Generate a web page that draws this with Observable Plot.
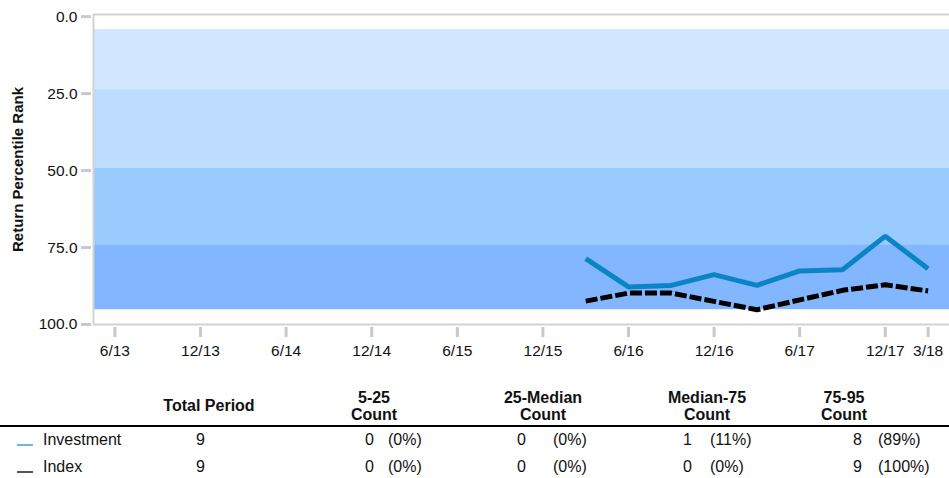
<!DOCTYPE html>
<html>
<head>
<meta charset="utf-8">
<script src="https://cdn.jsdelivr.net/npm/d3@7"></script>
<script src="https://cdn.jsdelivr.net/npm/@observablehq/plot@0.6"></script>
<style>
  body { margin: 0; background: #fff; }
  #wrap { position: relative; width: 949px; height: 478px; overflow: hidden; font-family: "Liberation Sans", Arial, sans-serif; color: #111; }
  #wrap svg { position: absolute; left: 0; top: 0; }
  .cell { position: absolute; font-size: 16px; line-height: 17px; white-space: nowrap; transform: translateY(-50%); }
  .hdr { font-weight: bold; text-align: center; transform: translate(-50%, -50%); }
  .rule { position: absolute; left: 0; width: 949px; height: 2px; background: #000; }
  .sw { position: absolute; width: 16px; height: 1.5px; }
</style>
</head>
<body>
<div id="wrap"></div>
<script>
// ---- data ----
const quarters = ["6/13","9/13","12/13","3/14","6/14","9/14","12/14","3/15","6/15","9/15",
                  "12/15","3/16","6/16","9/16","12/16","3/17","6/17","9/17","12/17","3/18"];
const xTickLabels = ["6/13","12/13","6/14","12/14","6/15","12/15","6/16","12/16","6/17","12/17","3/18"];
const yTicks = [0, 25, 50, 75, 100];
const periods = ["3/16","6/16","9/16","12/16","3/17","6/17","9/17","12/17","3/18"];
const investmentRank = [78.6, 87.8, 87.3, 83.8, 87.3, 82.6, 82.2, 71.3, 81.9];
const indexRank = [92.4, 89.8, 89.8, 92.5, 95.2, 92.0, 88.9, 87.1, 89.1];
const bandNames = ["5-25", "25-Median", "Median-75", "75-95"];
const bandTop = [4.2, 23.7, 49.2, 74.1];
const bandBottom = [23.7, 49.2, 74.1, 95.2];
const bandColors = ["#d2e7ff", "#bddcff", "#9acbfe", "#82b7ff"];
const seriesNames = ["Investment", "Index"];
const totalPeriod = [9, 9];
const countHeaders = ["5-25\nCount", "25-Median\nCount", "Median-75\nCount", "75-95\nCount"];
const investmentCounts = [0, 0, 1, 8];
const investmentPct = ["0%", "0%", "11%", "89%"];
const indexCounts = [0, 0, 0, 9];
const indexPct = ["0%", "0%", "0%", "100%"];

// ---- tables for the library ----
const bands = bandNames.map((n, i) => ({name: n, top: bandTop[i], bottom: bandBottom[i], color: bandColors[i]}));
const inv = periods.map((p, i) => ({p, v: investmentRank[i]}));
const idx = periods.map((p, i) => ({p, v: indexRank[i]}));

const H = 370;
const plot = Plot.plot({
  width: 949,
  height: H,
  marginLeft: 93,
  marginRight: -4,
  marginTop: 14,
  marginBottom: H - 324,
  style: {fontFamily: '"Liberation Sans", Arial, sans-serif', fontSize: "15.5px", color: "#111", background: "transparent"},
  x: {type: "point", domain: quarters, range: [93, 949], padding: 0.5, round: false},
  y: {domain: [-0.7, 100], reverse: true},
  color: {type: "identity"},
  marks: [
    Plot.rect(bands, {y1: "top", y2: "bottom", fill: "color"}),
    Plot.frame({stroke: "#d2d2d2", strokeWidth: 2}),
    Plot.line(inv, {x: "p", y: "v", stroke: "#0a84c6", strokeWidth: 5, strokeLinejoin: "miter", strokeLinecap: "butt"}),
    Plot.line(idx, {x: "p", y: "v", stroke: "#000", strokeWidth: 5, strokeDasharray: "12,3", strokeLinejoin: "miter", strokeLinecap: "butt"}),
    Plot.axisY(yTicks, {tickFormat: d => d.toFixed(1), tickSize: 10, tickPadding: 4, dx: -2, stroke: "#c5cad0", strokeWidth: 3, fill: "#111", label: null}),
    Plot.axisX(xTickLabels, {tickSize: 10, tickPadding: 7, dy: 3, stroke: "#c5cad0", strokeWidth: 3, fill: "#111", label: null}),
    Plot.text(["Return Percentile Rank"], {text: d => d, frameAnchor: "left", dx: -75, rotate: -90, textAnchor: "middle", fontWeight: "bold", fontSize: 15, fill: "#111"})
  ]
});
const wrap = document.getElementById("wrap");
wrap.appendChild(plot);

// ---- summary table ----
function add(cls, text, left, top, extra) {
  const d = document.createElement("div");
  d.className = cls;
  d.textContent = text;
  d.style.left = left + "px";
  d.style.top = top + "px";
  if (extra) Object.assign(d.style, extra);
  wrap.appendChild(d);
  return d;
}
add("cell hdr", "Total Period", 209, 405);
const hdrX = [374, 543, 707, 844];
countHeaders.forEach((h, i) => {
  const [a, b] = h.split("\n");
  add("cell hdr", a, hdrX[i], 397);
  add("cell hdr", b, hdrX[i], 414);
});
const r = document.createElement("div");
r.className = "rule"; r.style.top = "425px"; wrap.appendChild(r);

const rowY = [439, 466];
const swColors = ["#6eb6e6", "#555"];
const numX = [365, 517, 683, 853];
const pctX = [388, 553, 710, 878];
const rowCounts = [investmentCounts, indexCounts];
const rowPct = [investmentPct, indexPct];
seriesNames.forEach((name, j) => {
  const s = document.createElement("div");
  s.className = "sw"; s.style.left = "17px"; s.style.top = (rowY[j] + 5) + "px"; s.style.background = swColors[j];
  wrap.appendChild(s);
  add("cell", name, 43, rowY[j]);
  add("cell", String(totalPeriod[j]), 196, rowY[j]);
  rowCounts[j].forEach((c, i) => {
    add("cell", String(c), numX[i], rowY[j]);
    add("cell", "(" + rowPct[j][i] + ")", pctX[i], rowY[j]);
  });
});
</script>
</body>
</html>
